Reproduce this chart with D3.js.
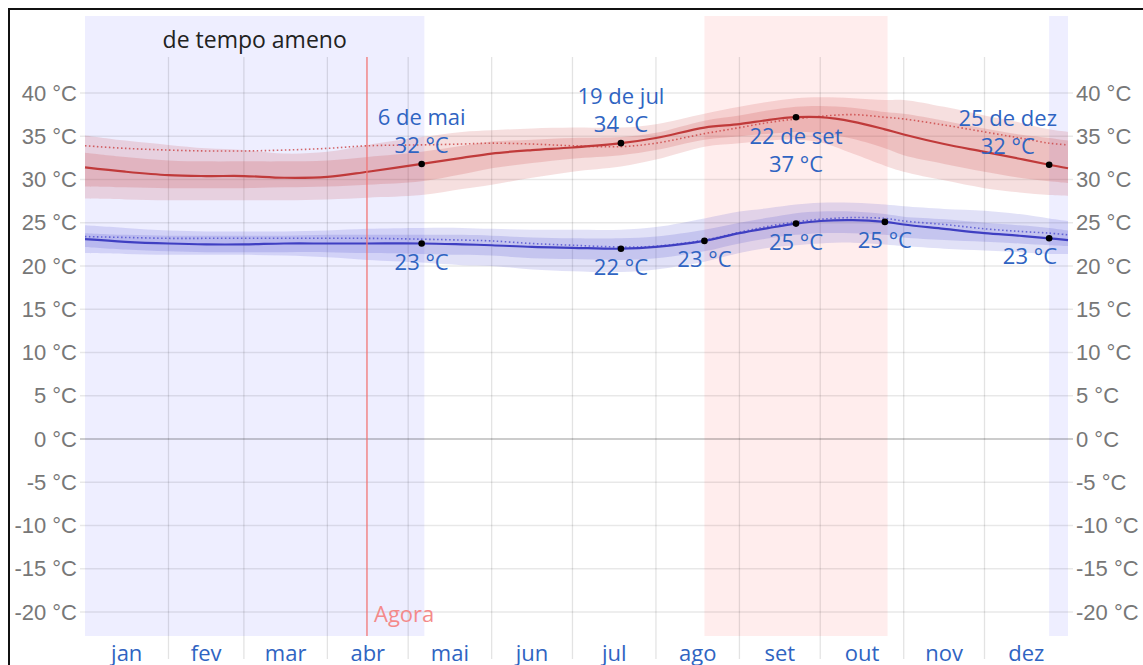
<!DOCTYPE html>
<html>
<head>
<meta charset="utf-8">
<script src="https://cdn.jsdelivr.net/npm/d3@7"></script>
<style>
	body { margin: 0; background: #fff; }
	svg { display: block; font-family: "Open Sans", "Noto Sans", sans-serif; }
	.tick text { fill: #777; font-size: 22px; }
	.monthLabel { fill: #2f64c2; font-size: 22px; }
	.note { fill: #2f64c2; font-size: 22px; }
</style>
</head>
<body>
<script>
/**
 * Temperatura diaria: maxima e minima, com faixas de percentis
 */

// months
var monthNames = ["jan", "fev", "mar", "abr", "mai", "jun", "jul", "ago", "set", "out", "nov", "dez"];
var monthDays = [31, 28, 31, 30, 31, 30, 31, 31, 30, 31, 30, 31];

// day of year (0 = 1 jan) for the sampled values below
var days = [0, 15, 31, 45, 59, 74, 90, 105, 125, 140, 151, 166, 181, 199, 212, 230, 243, 254, 264, 273, 285, 297, 304, 319, 334, 347, 358, 365];

// maxima (°C)
var hiAvg = [31.4, 30.9, 30.5, 30.4, 30.4, 30.2, 30.3, 30.9, 31.8, 32.5, 33.0, 33.4, 33.7, 34.2, 34.8, 36.0, 36.4, 36.9, 37.2, 37.2, 36.7, 35.8, 35.2, 34.1, 33.2, 32.4, 31.7, 31.3];
var hiP75 = [33.1, 32.6, 32.2, 32.1, 32.1, 32.1, 32.2, 32.6, 33.2, 33.9, 34.4, 34.6, 34.8, 34.9, 35.4, 36.8, 37.4, 38.0, 38.4, 38.5, 38.3, 37.8, 37.6, 36.8, 35.9, 35.2, 34.8, 34.5];
var hiP25 = [29.2, 29.1, 29.0, 29.0, 29.0, 29.1, 29.2, 29.4, 29.8, 30.6, 31.3, 31.9, 32.4, 32.8, 33.4, 34.6, 35.0, 35.3, 35.5, 35.4, 34.7, 33.6, 32.8, 31.8, 30.9, 30.2, 29.8, 29.6];
var hiP90 = [35.1, 34.5, 34.0, 33.6, 33.4, 33.0, 33.2, 34.0, 34.9, 35.5, 35.7, 35.9, 36.0, 36.0, 36.4, 37.6, 38.4, 39.0, 39.4, 39.5, 39.4, 39.2, 39.2, 38.4, 37.4, 36.6, 35.8, 35.5];
var hiP10 = [27.8, 27.7, 27.6, 27.6, 27.6, 27.6, 27.7, 27.9, 28.2, 28.9, 29.4, 30.2, 30.9, 31.5, 32.3, 33.8, 34.2, 34.5, 34.6, 34.3, 33.0, 31.6, 30.9, 29.9, 29.0, 28.5, 28.2, 28.1];
var hiFeel = [33.9, 33.6, 33.4, 33.3, 33.3, 33.4, 33.6, 33.9, 34.0, 34.1, 34.2, 34.1, 33.9, 33.8, 34.2, 35.3, 36.0, 36.6, 37.0, 37.3, 37.5, 37.2, 37.0, 36.3, 35.5, 34.8, 34.2, 34.0];

// minima (°C)
var loAvg = [23.1, 22.8, 22.6, 22.5, 22.5, 22.6, 22.6, 22.6, 22.6, 22.5, 22.4, 22.2, 22.1, 22.0, 22.2, 22.9, 23.8, 24.4, 24.9, 25.2, 25.3, 25.1, 24.8, 24.3, 23.8, 23.5, 23.2, 23.0];
var loP75 = [23.8, 23.6, 23.5, 23.5, 23.5, 23.5, 23.6, 23.6, 23.6, 23.6, 23.5, 23.3, 23.2, 23.2, 23.4, 24.2, 25.0, 25.6, 26.1, 26.3, 26.3, 26.0, 25.7, 25.4, 25.0, 24.7, 24.4, 24.1];
var loP25 = [22.2, 21.9, 21.7, 21.6, 21.6, 21.6, 21.6, 21.5, 21.4, 21.3, 21.2, 20.9, 20.8, 20.7, 20.9, 21.7, 22.6, 23.2, 23.6, 23.8, 23.8, 23.6, 23.3, 23.0, 22.8, 22.6, 22.4, 22.3];
var loP90 = [24.7, 24.4, 24.1, 24.0, 24.0, 24.0, 24.1, 24.3, 24.4, 24.4, 24.3, 24.2, 24.2, 24.2, 24.5, 25.5, 26.3, 26.7, 27.1, 27.3, 27.3, 27.1, 26.9, 26.6, 26.4, 26.0, 25.5, 25.2];
var loP10 = [21.5, 21.4, 21.3, 21.3, 21.3, 21.2, 21.0, 20.7, 20.4, 20.1, 20.0, 19.6, 19.4, 19.3, 19.6, 20.5, 21.5, 22.1, 22.4, 22.6, 22.7, 22.5, 22.3, 22.0, 21.8, 21.6, 21.4, 21.4];
var loFeel = [23.4, 23.3, 23.2, 23.2, 23.2, 23.2, 23.2, 23.2, 23.1, 23.0, 22.9, 22.6, 22.4, 22.2, 22.3, 23.0, 23.9, 24.6, 25.1, 25.4, 25.6, 25.5, 25.2, 24.8, 24.3, 24.0, 23.8, 23.6];

// marked days
var hiMarkDays = [125, 199, 264, 358];
var hiMarkDates = ["6 de mai", "19 de jul", "22 de set", "25 de dez"];
var hiMarkTemps = ["32 °C", "34 °C", "37 °C", "32 °C"];
var loMarkDays = [125, 199, 230, 264, 297, 358];
var loMarkTemps = ["23 °C", "22 °C", "23 °C", "25 °C", "25 °C", "23 °C"];

// seasons [first day, last day]
var coolSeason = [[0, 125], [358, 364]];
var hotSeason = [[230, 297]];
var coolLabel = "de tempo ameno";
var nowDay = 104.7;
var nowLabel = "Agora";

var yTicks = [-20, -15, -10, -5, 0, 5, 10, 15, 20, 25, 30, 35, 40];

var W = 1143, H = 665;
var plotLeft = 85, plotRight = 1068;
var shadeTop = 16, gridTop = 57, plotBottom = 636;

var svg = d3.select("body").append("svg")
	.attr("width", W)
	.attr("height", H);

var x = d3.scaleLinear().domain([0, 365]).range([plotLeft, plotRight]);
var y = d3.scaleLinear().domain([-20, 40]).range([612, 93]);
var curve = d3.curveCatmullRom.alpha(0.5);

// month boundaries
var monthStart = [0];
monthDays.forEach(function(d, i) { monthStart.push(monthStart[i] + d); });

// frame
svg.append("path")
	.attr("d", "M 9 " + H + " V 9 H " + W)
	.style("fill", "none")
	.style("stroke", "#111")
	.style("stroke-width", 2);

// season shading
svg.selectAll(".coolRect").data(coolSeason).enter()
	.append("rect")
	.attr("class", "coolRect")
	.attr("x", function(d) { return x(d[0]); })
	.attr("y", shadeTop)
	.attr("width", function(d) { return x(d[1] + 1) - x(d[0]); })
	.attr("height", plotBottom - shadeTop)
	.style("fill", "#eeeeff");

svg.selectAll(".hotRect").data(hotSeason).enter()
	.append("rect")
	.attr("class", "hotRect")
	.attr("x", function(d) { return x(d[0]); })
	.attr("y", shadeTop)
	.attr("width", function(d) { return x(d[1] + 1) - x(d[0]); })
	.attr("height", plotBottom - shadeTop)
	.style("fill", "#ffeded");

svg.append("text")
	.attr("x", (x(coolSeason[0][0]) + x(coolSeason[0][1] + 1)) / 2)
	.attr("y", 48)
	.style("text-anchor", "middle")
	.style("font-size", "23px")
	.style("fill", "#222")
	.text(coolLabel);

// grid
svg.selectAll(".vGrid").data(monthStart.slice(1, 12)).enter()
	.append("line")
	.attr("class", "vGrid")
	.attr("x1", function(d) { return x(d); })
	.attr("x2", function(d) { return x(d); })
	.attr("y1", gridTop)
	.attr("y2", 659)
	.style("stroke", "rgba(0,0,0,0.11)")
	.style("stroke-width", 1.3);

svg.selectAll(".hGrid").data(yTicks).enter()
	.append("line")
	.attr("class", "hGrid")
	.attr("x1", plotLeft - 5)
	.attr("x2", plotRight + 5)
	.attr("y1", function(d) { return y(d); })
	.attr("y2", function(d) { return y(d); })
	.style("stroke", function(d) { return d === 0 ? "rgba(0,0,0,0.2)" : "rgba(0,0,0,0.09)"; })
	.style("stroke-width", function(d) { return d === 0 ? 2.2 : 1.3; });

// y axes, left and right
var fmt = function(d) { return d + " °C"; };
svg.append("g")
	.attr("transform", "translate(" + (plotLeft - 5) + ",0)")
	.call(d3.axisLeft(y).tickValues(yTicks).tickFormat(fmt).tickSize(0).tickPadding(3))
	.call(function(g) { g.select(".domain").remove(); });
svg.append("g")
	.attr("transform", "translate(" + (plotRight + 5) + ",0)")
	.call(d3.axisRight(y).tickValues(yTicks).tickFormat(fmt).tickSize(0).tickPadding(3))
	.call(function(g) { g.select(".domain").remove(); });

// month labels
svg.selectAll(".monthLabel").data(monthNames).enter()
	.append("text")
	.attr("class", "monthLabel")
	.attr("x", function(d, i) { return x(monthStart[i] + monthDays[i] / 2); })
	.attr("y", 661)
	.style("text-anchor", "middle")
	.text(function(d) { return d; });

// bands and lines
function drawSeries(avg, p25, p75, p10, p90, feel, rgb, lineColor) {
	var band = function(lo, hi) {
		return d3.area()
			.x(function(d) { return x(d); })
			.y0(function(d, i) { return y(lo[i]); })
			.y1(function(d, i) { return y(hi[i]); })
			.curve(curve)(days);
	};
	svg.append("path").attr("d", band(p10, p90))
		.style("fill", "rgba(" + rgb + ",0.16)");
	svg.append("path").attr("d", band(p25, p75))
		.style("fill", "rgba(" + rgb + ",0.18)");

	var line = function(v) {
		return d3.line()
			.x(function(d) { return x(d); })
			.y(function(d, i) { return y(v[i]); })
			.curve(curve)(days);
	};
	svg.append("path").attr("d", line(feel))
		.style("fill", "none")
		.style("stroke", "rgba(" + rgb + ",0.75)")
		.style("stroke-width", 1.6)
		.style("stroke-dasharray", "1.5,2.5");
	svg.append("path").attr("d", line(avg))
		.style("fill", "none")
		.style("stroke", lineColor)
		.style("stroke-width", 2.2);
}

drawSeries(hiAvg, hiP25, hiP75, hiP10, hiP90, hiFeel, "200,55,55", "#c03a3a");
drawSeries(loAvg, loP25, loP75, loP10, loP90, loFeel, "70,70,205", "#3f3fc2");

// now line
svg.append("line")
	.attr("x1", x(nowDay))
	.attr("x2", x(nowDay))
	.attr("y1", gridTop)
	.attr("y2", plotBottom)
	.style("stroke", "#f07575")
	.style("stroke-width", 1.3);
svg.append("text")
	.attr("x", x(nowDay) + 7)
	.attr("y", 622)
	.style("font-size", "22px")
	.style("fill", "#f48a8a")
	.text(nowLabel);

// value at a marked day (marked days are sample nodes)
function valueAt(arr, day) {
	return arr[days.indexOf(day)];
}

// keeps a centered label inside the plot
function clampX(cx, w) {
	if (cx + w / 2 > plotRight - 11) cx = plotRight - 11 - w / 2;
	return cx;
}

// high marks: above the line, except at the yearly peak
var peak = d3.max(hiMarkDays, function(d) { return valueAt(hiAvg, d); });
hiMarkDays.forEach(function(d, i) {
	var v = valueAt(hiAvg, d);
	var px = x(d), py = y(v);
	var below = v === peak;
	var y1 = below ? py + 27 : py - 39;
	var t1 = svg.append("text").attr("class", "note").attr("y", y1)
		.style("text-anchor", "middle").text(hiMarkDates[i]);
	var t2 = svg.append("text").attr("class", "note").attr("y", y1 + 28)
		.style("text-anchor", "middle").text(hiMarkTemps[i]);
	var w = Math.max(t1.node().getComputedTextLength(), t2.node().getComputedTextLength());
	var cx = clampX(px, w);
	t1.attr("x", cx);
	t2.attr("x", cx);
});

loMarkDays.forEach(function(d, i) {
	var v = valueAt(loAvg, d);
	var t = svg.append("text").attr("class", "note")
		.attr("y", y(v) + 26)
		.style("text-anchor", "middle")
		.text(loMarkTemps[i]);
	t.attr("x", clampX(x(d), t.node().getComputedTextLength()));
});

// dots
svg.selectAll(".hiDot").data(hiMarkDays).enter()
	.append("circle")
	.attr("cx", function(d) { return x(d); })
	.attr("cy", function(d) { return y(valueAt(hiAvg, d)); })
	.attr("r", 3.3)
	.style("fill", "#000");
svg.selectAll(".loDot").data(loMarkDays).enter()
	.append("circle")
	.attr("cx", function(d) { return x(d); })
	.attr("cy", function(d) { return y(valueAt(loAvg, d)); })
	.attr("r", 3.3)
	.style("fill", "#000");
</script>
</body>
</html>
